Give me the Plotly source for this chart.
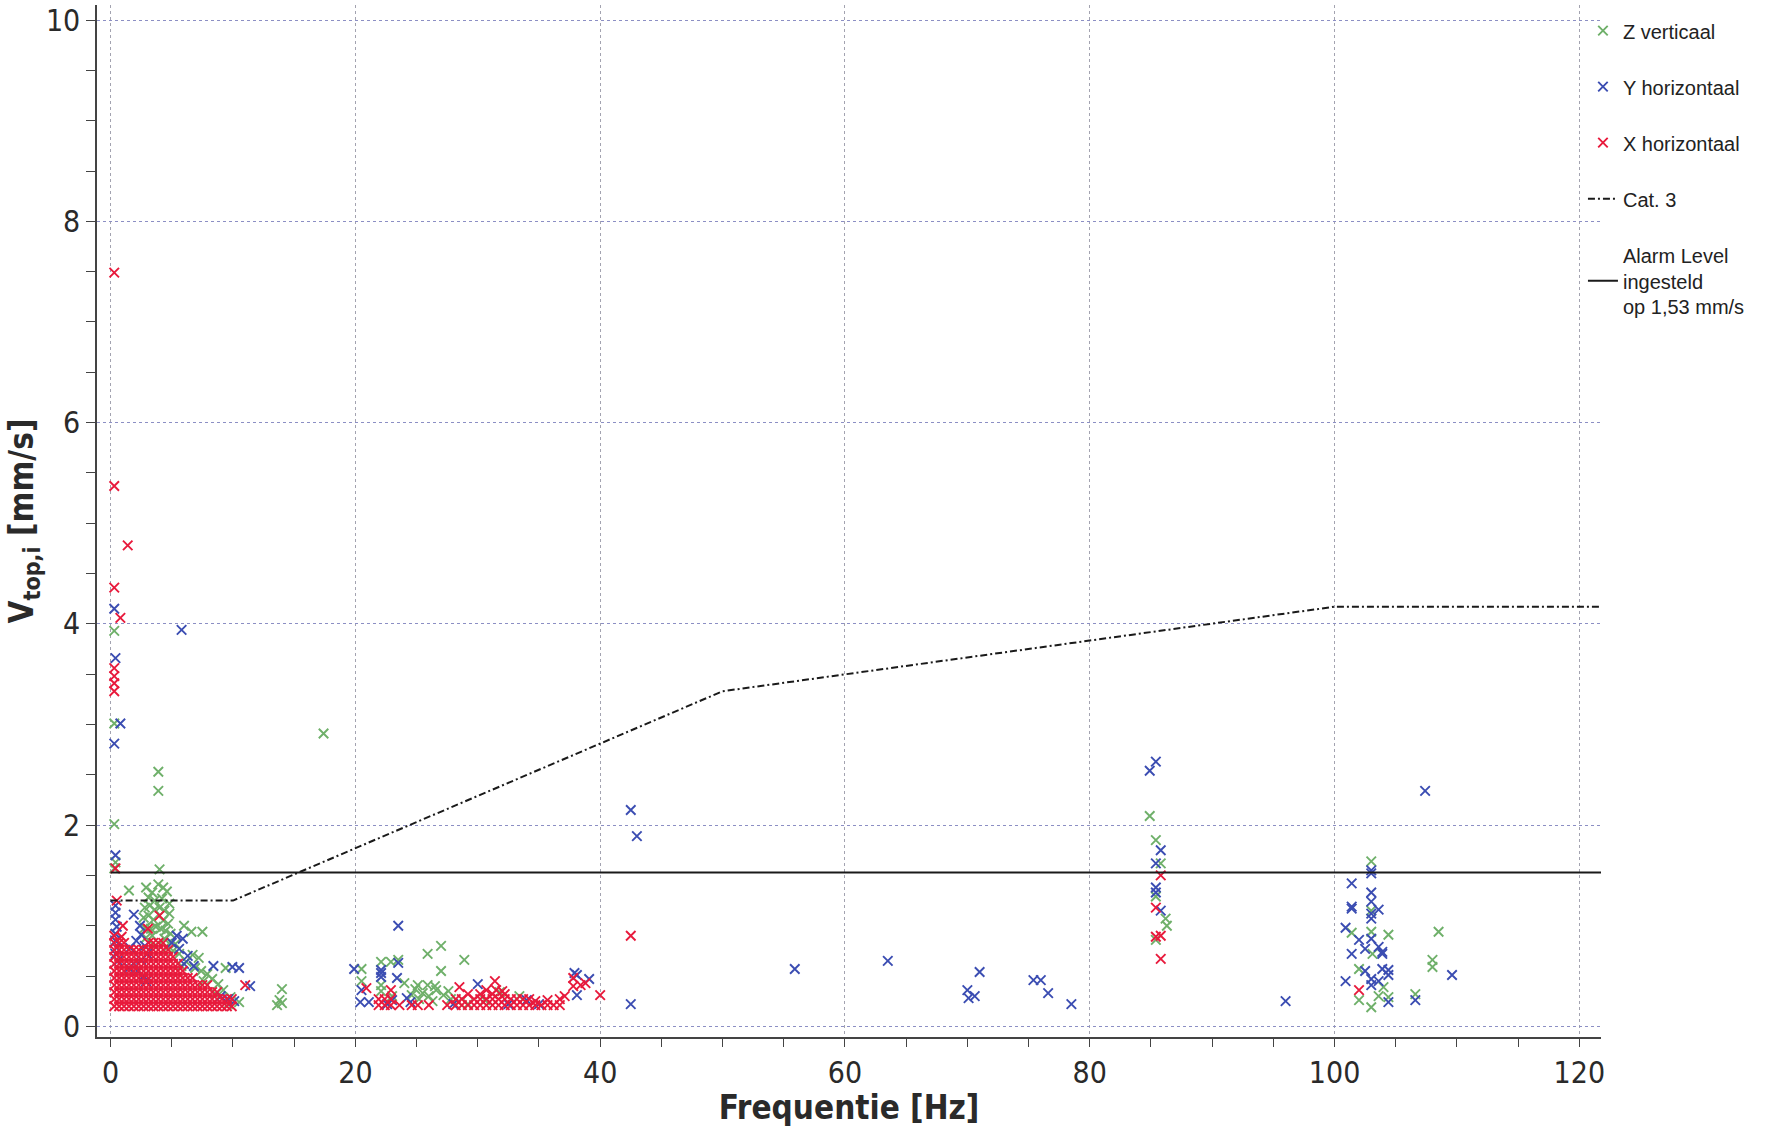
import plotly.graph_objects as go

# ---------------- data ----------------
# Z verticaal (green)
z_freq = [0.3, 0.3, 0.3, 0.4, 0.3, 3.9, 3.9, 4.0, 17.4, 1.5,
          2.9, 3.4, 3.9, 4.3, 4.6, 3.1, 3.6, 4.2, 4.8,
          2.8, 3.2, 3.6, 4.0, 4.4, 4.8, 2.7, 3.1, 3.5, 4.3, 4.7,
          2.8, 3.3, 3.7, 4.1, 4.5, 4.9, 2.9, 3.4, 4.4, 4.9, 5.3,
          3.6, 4.6, 5.1,
          6.0, 6.6, 7.5, 6.7, 7.2, 5.6, 6.2, 5.8, 6.9, 7.4, 7.9, 8.3, 7.6, 8.8,
          9.4, 9.2, 8.6, 9.8, 10.5, 9.6,
          14.0, 13.8, 14.0, 13.6,
          20.5, 20.5, 22.1, 22.1, 22.1, 22.9, 23.5, 24.0, 25.1, 25.9, 27.0, 27.0,
          28.9, 25.9, 26.5, 24.9, 25.5, 26.0, 26.6, 27.2, 27.6, 25.2, 26.3, 27.8,
          28.4, 24.6, 23.0, 30.6, 31.8, 33.4, 29.2,
          84.9, 85.4, 85.8, 85.4, 86.2, 86.3, 85.4,
          103.0, 103.0, 101.4, 103.0, 104.4, 108.5, 103.1, 108.0, 108.0, 102.0,
          104.0, 103.6, 104.4, 106.6, 102.0, 103.0]
z_vtop = [3.93, 3.01, 2.01, 1.63, 1.57, 2.53, 2.34, 1.56, 2.91, 1.35,
          1.38, 1.33, 1.41, 1.38, 1.34, 1.28, 1.25, 1.27, 1.22,
          1.18, 1.20, 1.16, 1.18, 1.15, 1.12, 1.08, 1.10, 1.06, 1.05, 1.02,
          0.98, 0.97, 0.99, 0.97, 0.95, 0.92, 0.88, 0.90, 0.87, 0.84, 0.82,
          0.80, 0.78, 0.75,
          1.00, 0.94, 0.94, 0.71, 0.68, 0.72, 0.64, 0.60, 0.58, 0.55, 0.52, 0.47, 0.45, 0.42,
          0.58, 0.36, 0.32, 0.29, 0.24, 0.22,
          0.37, 0.26, 0.23, 0.21,
          0.57, 0.45, 0.64, 0.41, 0.35, 0.64, 0.66, 0.43, 0.41, 0.72, 0.80, 0.55,
          0.66, 0.41, 0.40, 0.37, 0.33, 0.30, 0.36, 0.31, 0.35, 0.27, 0.25, 0.27,
          0.24, 0.31, 0.30, 0.26, 0.34, 0.30, 0.22,
          2.09, 1.85, 1.62, 1.29, 1.07, 1.00, 0.86,
          1.64, 1.15, 0.93, 0.94, 0.91, 0.94, 0.72, 0.66, 0.59, 0.57,
          0.39, 0.30, 0.29, 0.32, 0.26, 0.19]

# Y horizontaal (blue)
y_freq = [0.3, 0.4, 0.8, 0.3, 5.8, 0.4,
          0.4, 0.4, 0.4, 0.5, 0.4, 0.4, 0.5, 0.4, 0.6,
          1.9, 2.4, 2.5, 2.1, 1.6, 2.8, 3.0,
          1.9, 2.2, 2.7, 2.9, 1.5, 2.5,
          5.4, 5.9, 5.6, 5.0, 6.3, 6.0, 6.8,
          8.4, 9.95, 10.5, 11.4, 10.1, 9.6, 9.0,
          19.9, 20.5, 20.4, 21.1, 22.1, 22.1, 22.1, 23.5, 23.5, 23.4, 24.2, 24.5,
          23.0, 22.6, 30.0, 32.5, 35.0, 37.9, 38.1, 38.1, 39.1, 28.0, 34.0,
          42.5, 43.0, 42.5, 55.9, 63.5, 71.0, 70.0, 70.1, 70.6, 75.4, 76.0, 76.6,
          78.5, 96.0,
          84.9, 85.4, 85.8, 85.4, 85.4, 85.4, 85.8,
          107.4, 103.0, 103.0, 101.4, 103.0, 103.0, 101.4, 101.4, 103.6, 103.0,
          103.0, 100.9, 102.0, 103.0, 102.5, 103.6, 103.9, 103.9, 101.4, 102.5,
          103.9, 104.4, 104.4, 109.6, 100.9, 103.0, 103.0, 103.6, 106.6, 104.4]
y_vtop = [4.15, 3.66, 3.01, 2.81, 3.94, 1.70,
          1.20, 1.13, 1.06, 0.99, 0.92, 0.85, 0.78, 0.72, 0.65,
          1.11, 1.00, 0.91, 0.85, 0.78, 0.80, 0.72,
          0.62, 0.55, 0.50, 0.45, 0.58, 0.66,
          0.90, 0.87, 0.77, 0.83, 0.70, 0.62, 0.60,
          0.60, 0.59, 0.58, 0.40, 0.25, 0.27, 0.30,
          0.57, 0.36, 0.24, 0.24, 0.56, 0.53, 0.49, 1.00, 0.63, 0.48, 0.28, 0.24,
          0.26, 0.22, 0.42, 0.22, 0.22, 0.53, 0.51, 0.31, 0.47, 0.22, 0.26,
          2.15, 1.89, 0.22, 0.57, 0.65, 0.54, 0.36, 0.28, 0.30, 0.46, 0.46, 0.33,
          0.22, 0.25,
          2.54, 2.63, 1.75, 1.62, 1.38, 1.33, 1.15,
          2.34, 1.55, 1.52, 1.42, 1.33, 1.24, 1.19, 1.17, 1.16, 1.12,
          1.07, 0.98, 0.86, 0.87, 0.77, 0.79, 0.74, 0.72, 0.72, 0.55,
          0.57, 0.56, 0.51, 0.51, 0.45, 0.47, 0.41, 0.45, 0.26, 0.24]

# X horizontaal (red)
x_freq = [0.3, 0.3, 1.4, 0.3, 0.8, 0.3, 0.3, 0.3, 0.3, 0.4, 0.5, 4.0, 3.05, 1.0, 0.9, 11.0,
          # dense cluster 0-10 Hz
          0.3, 0.3, 0.3, 0.3, 0.3, 0.3, 0.3, 0.3, 0.3, 0.3, 0.3,
          0.7, 0.7, 0.7, 0.7, 0.7, 0.7, 0.7, 0.7, 0.7, 0.7,
          1.1, 1.1, 1.1, 1.1, 1.1, 1.1, 1.1, 1.1, 1.1, 1.1,
          1.5, 1.5, 1.5, 1.5, 1.5, 1.5, 1.5, 1.5, 1.5,
          1.9, 1.9, 1.9, 1.9, 1.9, 1.9, 1.9, 1.9, 1.9,
          2.3, 2.3, 2.3, 2.3, 2.3, 2.3, 2.3, 2.3, 2.3,
          2.7, 2.7, 2.7, 2.7, 2.7, 2.7, 2.7, 2.7, 2.7,
          3.1, 3.1, 3.1, 3.1, 3.1, 3.1, 3.1, 3.1, 3.1, 3.1,
          3.5, 3.5, 3.5, 3.5, 3.5, 3.5, 3.5, 3.5, 3.5, 3.5,
          3.9, 3.9, 3.9, 3.9, 3.9, 3.9, 3.9, 3.9, 3.9, 3.9,
          4.3, 4.3, 4.3, 4.3, 4.3, 4.3, 4.3, 4.3, 4.3, 4.3,
          4.7, 4.7, 4.7, 4.7, 4.7, 4.7, 4.7, 4.7, 4.7,
          5.1, 5.1, 5.1, 5.1, 5.1, 5.1, 5.1, 5.1,
          5.5, 5.5, 5.5, 5.5, 5.5, 5.5, 5.5,
          5.9, 5.9, 5.9, 5.9, 5.9, 5.9,
          6.3, 6.3, 6.3, 6.3, 6.3,
          6.7, 6.7, 6.7, 6.7, 6.7,
          7.1, 7.1, 7.1, 7.1,
          7.5, 7.5, 7.5, 7.5,
          7.9, 7.9, 7.9, 7.9,
          8.3, 8.3, 8.3,
          8.7, 8.7, 8.7,
          9.1, 9.1,
          9.5, 9.5,
          9.9, 9.9,
          # 20-40 Hz
          20.9, 22.9, 28.5, 31.4, 30.7, 31.5, 32.0, 37.8, 37.8, 38.4, 38.8, 37.1, 40.0,
          21.9, 21.9, 22.4, 22.4, 22.9, 22.9, 23.6, 24.6, 25.1, 26.0, 27.5, 28.2, 28.2,
          28.7, 28.7, 29.2, 29.2, 29.7, 29.7, 30.2, 30.2, 30.2, 30.7, 30.7, 31.2, 31.2,
          31.2, 31.7, 31.7, 32.2, 32.2, 32.2, 32.7, 32.7, 33.2, 33.2, 33.7, 33.7, 34.2,
          34.2, 34.7, 34.7, 35.2, 35.7, 35.7, 36.2, 36.7, 36.7,
          # higher frequencies
          42.5, 85.8, 85.4, 85.4, 85.8, 85.8, 102.0]
x_vtop = [7.49, 5.37, 4.78, 4.36, 4.06, 3.56, 3.48, 3.41, 3.33, 1.57, 1.25, 1.10, 0.97, 1.00, 0.89, 0.41,
          0.20, 0.27, 0.34, 0.41, 0.48, 0.55, 0.62, 0.69, 0.76, 0.83, 0.90,
          0.20, 0.27, 0.34, 0.41, 0.48, 0.55, 0.62, 0.69, 0.76, 0.83,
          0.20, 0.27, 0.34, 0.41, 0.48, 0.55, 0.62, 0.69, 0.76, 0.83,
          0.20, 0.27, 0.34, 0.41, 0.48, 0.55, 0.62, 0.69, 0.76,
          0.20, 0.27, 0.34, 0.41, 0.48, 0.55, 0.62, 0.69, 0.76,
          0.20, 0.27, 0.34, 0.41, 0.48, 0.55, 0.62, 0.69, 0.76,
          0.20, 0.27, 0.34, 0.41, 0.48, 0.55, 0.62, 0.69, 0.76,
          0.20, 0.27, 0.34, 0.41, 0.48, 0.55, 0.62, 0.69, 0.76, 0.83,
          0.20, 0.27, 0.34, 0.41, 0.48, 0.55, 0.62, 0.69, 0.76, 0.83,
          0.20, 0.27, 0.34, 0.41, 0.48, 0.55, 0.62, 0.69, 0.76, 0.83,
          0.20, 0.27, 0.34, 0.41, 0.48, 0.55, 0.62, 0.69, 0.76, 0.83,
          0.20, 0.27, 0.34, 0.41, 0.48, 0.55, 0.62, 0.69, 0.76,
          0.20, 0.27, 0.34, 0.41, 0.48, 0.55, 0.62, 0.69,
          0.20, 0.27, 0.34, 0.41, 0.48, 0.55, 0.62,
          0.20, 0.27, 0.34, 0.41, 0.48, 0.55,
          0.20, 0.27, 0.34, 0.41, 0.48,
          0.20, 0.27, 0.34, 0.41, 0.48,
          0.20, 0.27, 0.34, 0.41,
          0.20, 0.27, 0.34, 0.41,
          0.20, 0.27, 0.34, 0.41,
          0.20, 0.27, 0.34,
          0.20, 0.27, 0.34,
          0.20, 0.27,
          0.20, 0.27,
          0.20, 0.27,
          0.38, 0.36, 0.39, 0.45, 0.36, 0.36, 0.35, 0.48, 0.40, 0.41, 0.43, 0.30, 0.31,
          0.21, 0.27, 0.21, 0.27, 0.21, 0.27, 0.21, 0.21, 0.21, 0.21, 0.21, 0.21, 0.27,
          0.21, 0.27, 0.21, 0.32, 0.21, 0.27, 0.21, 0.27, 0.32, 0.21, 0.27, 0.21, 0.27,
          0.32, 0.21, 0.27, 0.21, 0.27, 0.32, 0.21, 0.27, 0.21, 0.27, 0.21, 0.27, 0.21,
          0.27, 0.21, 0.25, 0.21, 0.21, 0.26, 0.21, 0.21, 0.27,
          0.90, 1.50, 1.18, 0.89, 0.90, 0.67, 0.36]

# Cat. 3 limit line and alarm level
cat3_freq = [0, 10, 50, 100, 125]
cat3_vtop = [1.25, 1.25, 3.33, 4.17, 4.17]
alarm_freq = [0, 125]
alarm_vtop = [1.53, 1.53]

x_ticks = [0, 20, 40, 60, 80, 100, 120]
y_ticks = [0, 2, 4, 6, 8, 10]

# ---------------- figure ----------------
GREEN = "#6fb06a"
BLUE = "#3b4db2"
RED = "#e81a3c"

def scatter(fx, vy, name, color, group):
    return go.Scatter(
        x=fx, y=vy, mode="markers", name=name, legendgroup=group,
        marker=dict(symbol="x-thin", size=9.5, color=color,
                    line=dict(width=1.9, color=color)),
    )

fig = go.Figure()
fig.add_trace(scatter(z_freq, z_vtop, "Z verticaal", GREEN, "z"))
fig.add_trace(scatter(y_freq, y_vtop, "Y horizontaal", BLUE, "y"))
fig.add_trace(scatter(x_freq, x_vtop, "X horizontaal", RED, "x"))
fig.add_trace(go.Scatter(x=cat3_freq, y=cat3_vtop, mode="lines", name="Cat. 3",
                         legendgroup="c",
                         line=dict(color="#1a1a1a", width=2, dash="7px,3px,2px,3px")))
fig.add_trace(go.Scatter(x=alarm_freq, y=alarm_vtop, mode="lines",
                         name="Alarm Level<br>ingesteld<br>op 1,53 mm/s",
                         legendgroup="a",
                         line=dict(color="#1a1a1a", width=2)))

tickfont = dict(family="Liberation Sans Narrow, DejaVu Sans Condensed, sans-serif",
                size=30, color="#2a2a2a")
titlefont = dict(family="Liberation Sans Narrow, DejaVu Sans Condensed, sans-serif",
                 size=33, color="#2a2a2a", weight="bold")

fig.update_layout(
    width=1765, height=1127, autosize=False,
    margin=dict(l=97, r=164, t=3, b=90),
    paper_bgcolor="white", plot_bgcolor="white",
    showlegend=True,
    legend=dict(x=0.988, y=0.994, xanchor="left", yanchor="top",
                traceorder="grouped", tracegroupgap=27, itemwidth=30,
                bgcolor="rgba(0,0,0,0)",
                font=dict(family="Liberation Sans, Arial, sans-serif", size=20,
                          color="#222")),
    xaxis=dict(range=[-1.11, 121.77], tickvals=x_ticks, ticks="outside", ticklen=8,
               tickcolor="#444", showline=True, linecolor="#444", linewidth=1.5,
               showgrid=True, gridcolor="#a3a3b0", griddash="dot", gridwidth=1,
               zeroline=False, tickfont=tickfont,
               minor=dict(dtick=5, ticks="outside", ticklen=8, tickcolor="#444",
                          showgrid=False),
               title=dict(text="Frequentie [Hz]", font=titlefont, standoff=6)),
    yaxis=dict(range=[-0.106, 10.15], tickvals=y_ticks, ticks="outside", ticklen=9,
               tickcolor="#444", showline=True, linecolor="#444", linewidth=1.5,
               showgrid=True, gridcolor="#8c8fc4", griddash="dot", gridwidth=1.2,
               zeroline=False, tickfont=tickfont,
               minor=dict(dtick=0.5, ticks="outside", ticklen=9, tickcolor="#444",
                          showgrid=False),
               title=dict(text="V<sub>top,i</sub> [mm/s]", font=titlefont, standoff=2)),
)

fig.write_html("out.html")
